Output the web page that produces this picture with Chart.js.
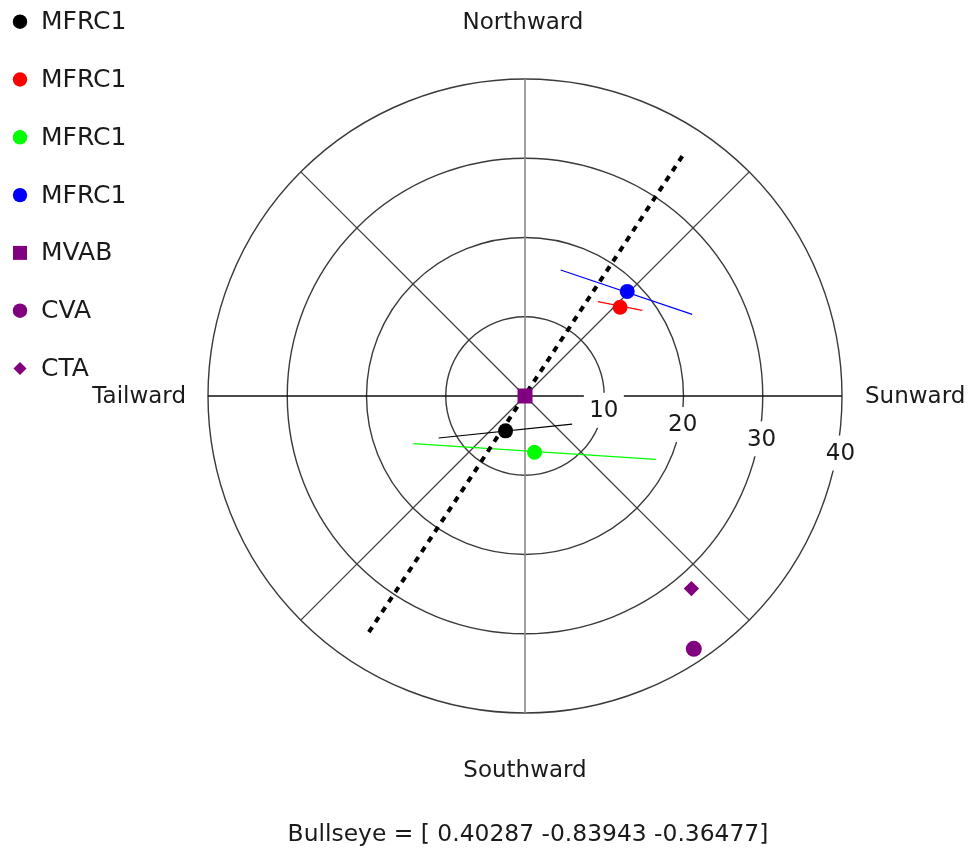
<!DOCTYPE html>
<html>
<head>
<meta charset="utf-8">
<title>Bullseye view</title>
<script src="https://cdn.jsdelivr.net/npm/chart.js@4/dist/chart.umd.min.js"></script>
<style>
  html, body { margin: 0; padding: 0; background: #ffffff; }
  canvas { display: block; }
</style>
</head>
<body>
<canvas id="bullseye" width="971" height="849"></canvas>
<script>
// Series: one marker per method (sunward / northward components)
const seriesNames = ['MFRC1', 'MFRC1', 'MFRC1', 'MFRC1', 'MVAB', 'CVA', 'CTA'];
const sunward   = [-2.45, 12.0,  1.2, 12.9, 0, 21.3,  21.0];
const northward = [-4.4,  11.2, -7.1, 13.2, 0, -31.9, -24.3];

// Spread segments for the four MFRC1 markers (start and end points)
const spreadStartX = [-10.9,  9.2, -14.1,  4.5];
const spreadStartY = [-5.3,  11.9,  -6.0, 15.9];
const spreadEndX   = [ 5.95, 14.8,  16.5, 21.1];
const spreadEndY   = [-3.55, 10.8,  -8.0, 10.3];

// Dotted reference direction through the origin
const directionX = [-19.7, 20.2];
const directionY = [-29.8, 30.8];

// Ring values and compass labels
const ringTicks = [10, 20, 30, 40];
const compassLabels = ['Northward', 'Sunward', 'Southward', 'Tailward'];
const bullseyeVector = [0.40287, -0.83943, -0.36477];

// Styling
const markerColors = ['#000000', '#ff0000', '#00ff00', '#0000ff', '#800080', '#800080', '#800080'];
const markerStyles = ['circle', 'circle', 'circle', 'circle', 'rect', 'circle', 'rectRot'];
const markerRadii  = [7.5, 7.5, 7.5, 7.5, 10.6, 8, 7.7];
const legendRadii  = [7.2, 7.2, 7.2, 7.2, 9.9, 7.2, 6.5];
const FAMILY = '"DejaVu Sans", "Liberation Sans", sans-serif';
const FONT = '23px ' + FAMILY;
const LEGEND_FONT = '25px ' + FAMILY;
const CAPTION_FONT = '23.4px ' + FAMILY;
const TEXT_COLOR = '#1a1a1a';

const markerSets = seriesNames.map((name, i) => ({
  label: name,
  isMarker: true,
  data: [{ x: sunward[i], y: northward[i] }],
  pointStyle: markerStyles[i],
  pointRadius: markerRadii[i],
  pointBackgroundColor: markerColors[i],
  pointBorderWidth: 0,
  pointBorderColor: markerColors[i],
  clip: false
}));

const spreadSets = spreadStartX.map((sx, i) => ({
  label: seriesNames[i] + ' spread',
  data: [{ x: sx, y: spreadStartY[i] }, { x: spreadEndX[i], y: spreadEndY[i] }],
  showLine: true,
  borderColor: markerColors[i],
  borderWidth: 1.2,
  pointRadius: 0,
  fill: false,
  clip: false
}));

const directionSet = {
  label: 'direction',
  data: directionX.map((dx, i) => ({ x: dx, y: directionY[i] })),
  showLine: true,
  borderColor: '#000000',
  borderWidth: 4,
  borderDash: [6, 6],
  pointRadius: 0,
  fill: false,
  clip: false
};

function drawMarker(ctx, style, r, x, y, color) {
  ctx.fillStyle = color;
  ctx.beginPath();
  if (style === 'rect') {
    const s = r * Math.SQRT1_2;
    ctx.rect(x - s, y - s, 2 * s, 2 * s);
  } else if (style === 'rectRot') {
    ctx.moveTo(x - r, y);
    ctx.lineTo(x, y - r);
    ctx.lineTo(x + r, y);
    ctx.lineTo(x, y + r);
    ctx.closePath();
  } else {
    ctx.arc(x, y, r, 0, Math.PI * 2);
  }
  ctx.fill();
}

// Circular frame: rings, spokes and ring values, drawn beneath the data
const polarFrame = {
  id: 'polarFrame',
  beforeDatasetsDraw(chart) {
    const { ctx } = chart;
    const xs = chart.scales.x, ys = chart.scales.y;
    const px = v => xs.getPixelForValue(v);
    const py = v => ys.getPixelForValue(v);
    const cx = px(0), cy = py(0);
    const outer = ringTicks[ringTicks.length - 1];

    ctx.save();
    // rings
    ringTicks.forEach(t => {
      ctx.beginPath();
      ctx.arc(cx, cy, px(t) - cx, 0, Math.PI * 2);
      ctx.strokeStyle = '#3a3a3a';
      ctx.lineWidth = 1.4;
      ctx.stroke();
    });
    // spokes every 45 degrees
    for (let k = 0; k < 8; k++) {
      const a = k * Math.PI / 4;
      let color = '#404040';
      if (k % 4 === 0) color = '#111111';
      else if (k % 4 === 2) color = '#8a8a8a';
      ctx.beginPath();
      ctx.moveTo(cx, cy);
      ctx.lineTo(px(outer * Math.cos(a)), py(outer * Math.sin(a)));
      ctx.strokeStyle = color;
      ctx.lineWidth = k % 4 === 2 ? 1.6 : 1.3;
      ctx.stroke();
    }
    // ring values on white backdrops, placed just below the sunward axis
    ctx.font = FONT;
    ctx.textAlign = 'center';
    ctx.textBaseline = 'middle';
    ringTicks.forEach(t => {
      const lx = px(t * 0.995);
      const ly = py(-t * 0.18);
      ctx.fillStyle = '#ffffff';
      ctx.fillRect(lx - 20, ly - 17.5, 40, 35);
      ctx.fillStyle = TEXT_COLOR;
      ctx.fillText(String(t), lx, ly + 1);
    });
    ctx.restore();
  },
  afterDraw(chart) {
    const { ctx, chartArea } = chart;
    const xs = chart.scales.x, ys = chart.scales.y;
    const cx = xs.getPixelForValue(0), cy = ys.getPixelForValue(0);

    ctx.save();
    ctx.font = FONT;
    ctx.fillStyle = TEXT_COLOR;
    ctx.textBaseline = 'middle';

    // compass labels
    ctx.textAlign = 'center';
    ctx.fillText(compassLabels[0], cx - 2, chartArea.top - 56);
    ctx.fillText(compassLabels[2], cx, chartArea.bottom + 58);
    ctx.textAlign = 'left';
    ctx.fillText(compassLabels[1], chartArea.right + 23, cy + 1);
    ctx.textAlign = 'right';
    ctx.fillText(compassLabels[3], chartArea.left - 22, cy + 1);

    // bullseye vector caption
    ctx.font = CAPTION_FONT;
    ctx.textAlign = 'center';
    const caption = 'Bullseye = [ ' + bullseyeVector.map(v => v.toFixed(5)).join(' ') + ']';
    ctx.fillText(caption, cx + 3, chartArea.bottom + 122);

    // legend, one row per marker series
    ctx.font = LEGEND_FONT;
    const sets = chart.data.datasets.filter(d => d.isMarker);
    sets.forEach((d, i) => {
      const rowY = 21.7 + i * 57.8;
      drawMarker(ctx, d.pointStyle, legendRadii[i], 20, rowY, d.pointBackgroundColor);
      ctx.fillStyle = TEXT_COLOR;
      ctx.textAlign = 'left';
      ctx.fillText(d.label, 41, rowY + 1);
    });
    ctx.restore();
  }
};

new Chart(document.getElementById('bullseye'), {
  type: 'scatter',
  data: {
    datasets: [...markerSets, directionSet, ...spreadSets]
  },
  options: {
    responsive: false,
    animation: false,
    devicePixelRatio: 1,
    events: [],
    layout: { padding: { left: 208, right: 129, top: 79, bottom: 136 } },
    scales: {
      x: { type: 'linear', min: -40, max: 40, display: false },
      y: { type: 'linear', min: -40, max: 40, display: false }
    },
    plugins: {
      legend: { display: false },
      tooltip: { enabled: false },
      title: { display: false }
    }
  },
  plugins: [polarFrame]
});
</script>
</body>
</html>
